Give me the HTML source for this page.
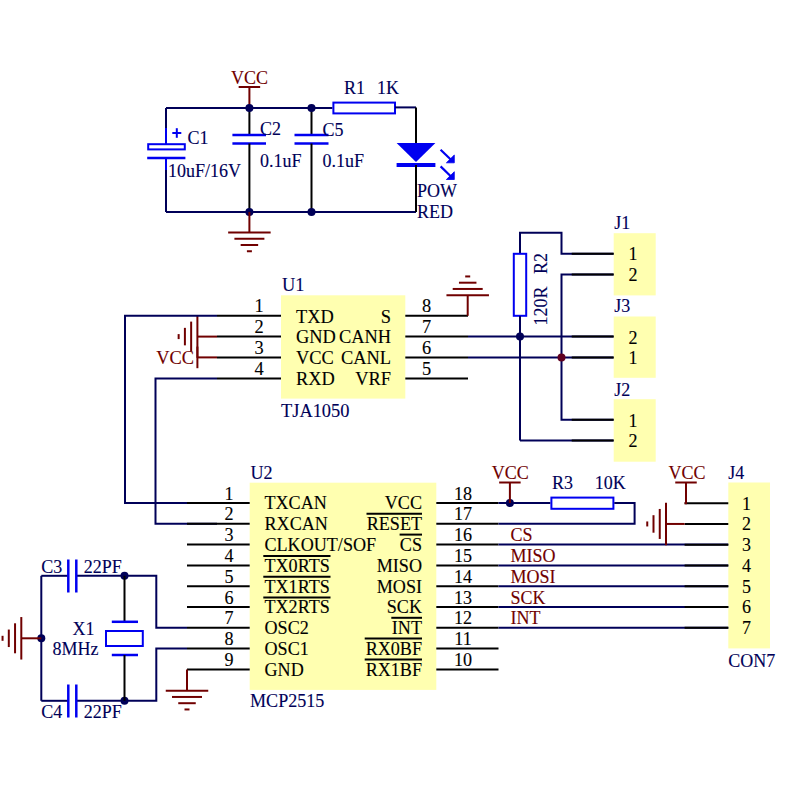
<!DOCTYPE html>
<html><head><meta charset="utf-8"><style>
html,body{margin:0;padding:0;background:#fff;width:800px;height:800px;overflow:hidden}
svg{display:block}
text{font-family:"Liberation Serif",serif;stroke-width:0.12px;paint-order:stroke}
</style></head><body>
<svg width="800" height="800" viewBox="0 0 800 800">
<rect x="0" y="0" width="800" height="800" fill="#ffffff"/>
<text x="249.5" y="84" font-size="18" fill="#700000" stroke="#700000" text-anchor="middle">VCC</text>
<line x1="238.65" y1="87" x2="260.15" y2="87" stroke="#700000" stroke-width="2.0"/>
<line x1="249.4" y1="87" x2="249.4" y2="108" stroke="#700000" stroke-width="2.0"/>
<line x1="166" y1="108" x2="332.4" y2="108" stroke="#000058" stroke-width="2.0"/>
<line x1="166" y1="212" x2="416" y2="212" stroke="#000058" stroke-width="2.0"/>
<line x1="166" y1="108" x2="166" y2="144" stroke="#000058" stroke-width="2.0"/>
<rect x="148.2" y="144.2" width="36.6" height="5.2" fill="none" stroke="#0000f0" stroke-width="2.0"/>
<line x1="147.2" y1="158" x2="185.4" y2="158" stroke="#0000f0" stroke-width="2.5"/>
<line x1="166" y1="158" x2="166" y2="212" stroke="#000058" stroke-width="2.0"/>
<line x1="166" y1="128" x2="166" y2="144" stroke="#0000f0" stroke-width="2.0"/>
<line x1="166" y1="158" x2="166" y2="170" stroke="#0000f0" stroke-width="2.0"/>
<line x1="172.3" y1="133" x2="181.3" y2="133" stroke="#0000f0" stroke-width="2"/>
<line x1="176.8" y1="128.2" x2="176.8" y2="137.8" stroke="#0000f0" stroke-width="2"/>
<text x="187.5" y="144.3" font-size="18" fill="#000058" stroke="#000058" text-anchor="start">C1</text>
<text x="168" y="177.3" font-size="18" fill="#000058" stroke="#000058" text-anchor="start">10uF/16V</text>
<line x1="249.4" y1="108" x2="249.4" y2="135" stroke="#000000" stroke-width="2.0"/>
<line x1="232.4" y1="135" x2="266" y2="135" stroke="#0000f0" stroke-width="2.5"/>
<line x1="232.4" y1="143.5" x2="266" y2="143.5" stroke="#0000f0" stroke-width="2.5"/>
<line x1="249.4" y1="143.5" x2="249.4" y2="212" stroke="#000000" stroke-width="2.0"/>
<circle cx="249.4" cy="108" r="4" fill="#000058"/>
<circle cx="249.4" cy="212" r="4" fill="#000058"/>
<text x="260" y="135" font-size="18" fill="#000058" stroke="#000058" text-anchor="start">C2</text>
<text x="260" y="167" font-size="18" fill="#000058" stroke="#000058" text-anchor="start">0.1uF</text>
<line x1="311.5" y1="108" x2="311.5" y2="135" stroke="#000000" stroke-width="2.0"/>
<line x1="294.5" y1="135" x2="328.5" y2="135" stroke="#0000f0" stroke-width="2.5"/>
<line x1="294.5" y1="143.5" x2="328.5" y2="143.5" stroke="#0000f0" stroke-width="2.5"/>
<line x1="311.5" y1="143.5" x2="311.5" y2="212" stroke="#000000" stroke-width="2.0"/>
<circle cx="311.5" cy="108" r="4" fill="#000058"/>
<circle cx="311.5" cy="212" r="4" fill="#000058"/>
<text x="322.5" y="135.6" font-size="18" fill="#000058" stroke="#000058" text-anchor="start">C5</text>
<text x="322.5" y="167" font-size="18" fill="#000058" stroke="#000058" text-anchor="start">0.1uF</text>
<line x1="249.4" y1="212" x2="249.4" y2="232.5" stroke="#700000" stroke-width="2.0"/>
<line x1="228.15" y1="232.5" x2="270.65" y2="232.5" stroke="#700000" stroke-width="2.0"/>
<line x1="234.4" y1="238.75" x2="264.4" y2="238.75" stroke="#700000" stroke-width="2.0"/>
<line x1="240.65" y1="245.0" x2="258.15" y2="245.0" stroke="#700000" stroke-width="2.0"/>
<line x1="246.9" y1="251.25" x2="251.9" y2="251.25" stroke="#700000" stroke-width="2.0"/>
<rect x="333.4" y="102.6" width="61.6" height="10.8" fill="none" stroke="#0000f0" stroke-width="2.0"/>
<line x1="395" y1="107.4" x2="416" y2="107.4" stroke="#000058" stroke-width="2.0"/>
<line x1="416" y1="107.4" x2="416" y2="143" stroke="#000000" stroke-width="2.0"/>
<polygon points="396.6,143 435.4,143 416,162" fill="#0000f0"/>
<line x1="396.6" y1="165" x2="435.4" y2="165" stroke="#0000f0" stroke-width="4"/>
<line x1="416" y1="165" x2="416" y2="212" stroke="#000000" stroke-width="2.0"/>
<line x1="440.6" y1="149.7" x2="451" y2="159.8" stroke="#0000f0" stroke-width="2.2"/>
<polygon points="454.3,155 454.3,162.8 446.4,162.8" fill="#0000f0" stroke="#0000f0" stroke-width="0.8"/>
<line x1="440.6" y1="166.39999999999998" x2="451" y2="176.5" stroke="#0000f0" stroke-width="2.2"/>
<polygon points="454.3,171.7 454.3,179.5 446.4,179.5" fill="#0000f0" stroke="#0000f0" stroke-width="0.8"/>
<text x="344" y="94" font-size="18" fill="#000058" stroke="#000058" text-anchor="start">R1</text>
<text x="377" y="94" font-size="18" fill="#000058" stroke="#000058" text-anchor="start">1K</text>
<text x="417" y="197" font-size="18" fill="#000058" stroke="#000058" text-anchor="start">POW</text>
<text x="417" y="218" font-size="18" fill="#000058" stroke="#000058" text-anchor="start">RED</text>
<rect x="281" y="295.3" width="124.3" height="103.3" fill="#ffffb0"/>
<line x1="217" y1="315.8" x2="281" y2="315.8" stroke="#000000" stroke-width="2.0"/>
<line x1="405.3" y1="315.8" x2="468" y2="315.8" stroke="#000000" stroke-width="2.0"/>
<text x="259" y="312.3" font-size="18.4" fill="#000000" stroke="#000000" text-anchor="middle">1</text>
<text x="426.5" y="312.3" font-size="18.4" fill="#000000" stroke="#000000" text-anchor="middle">8</text>
<text x="296" y="322.5" font-size="18.4" fill="#000000" stroke="#000000" text-anchor="start">TXD</text>
<text x="391" y="322.5" font-size="18.4" fill="#000000" stroke="#000000" text-anchor="end">S</text>
<line x1="217" y1="336.6" x2="281" y2="336.6" stroke="#000000" stroke-width="2.0"/>
<line x1="405.3" y1="336.6" x2="468" y2="336.6" stroke="#000000" stroke-width="2.0"/>
<text x="259" y="333.1" font-size="18.4" fill="#000000" stroke="#000000" text-anchor="middle">2</text>
<text x="426.5" y="333.1" font-size="18.4" fill="#000000" stroke="#000000" text-anchor="middle">7</text>
<text x="296" y="343.3" font-size="18.4" fill="#000000" stroke="#000000" text-anchor="start">GND</text>
<text x="391" y="343.3" font-size="18.4" fill="#000000" stroke="#000000" text-anchor="end">CANH</text>
<line x1="217" y1="357.4" x2="281" y2="357.4" stroke="#000000" stroke-width="2.0"/>
<line x1="405.3" y1="357.4" x2="468" y2="357.4" stroke="#000000" stroke-width="2.0"/>
<text x="259" y="353.9" font-size="18.4" fill="#000000" stroke="#000000" text-anchor="middle">3</text>
<text x="426.5" y="353.9" font-size="18.4" fill="#000000" stroke="#000000" text-anchor="middle">6</text>
<text x="296" y="364.09999999999997" font-size="18.4" fill="#000000" stroke="#000000" text-anchor="start">VCC</text>
<text x="391" y="364.09999999999997" font-size="18.4" fill="#000000" stroke="#000000" text-anchor="end">CANL</text>
<line x1="217" y1="378.4" x2="281" y2="378.4" stroke="#000000" stroke-width="2.0"/>
<line x1="405.3" y1="378.4" x2="468" y2="378.4" stroke="#000000" stroke-width="2.0"/>
<text x="259" y="374.9" font-size="18.4" fill="#000000" stroke="#000000" text-anchor="middle">4</text>
<text x="426.5" y="374.9" font-size="18.4" fill="#000000" stroke="#000000" text-anchor="middle">5</text>
<text x="296" y="385.09999999999997" font-size="18.4" fill="#000000" stroke="#000000" text-anchor="start">RXD</text>
<text x="391" y="385.09999999999997" font-size="18.4" fill="#000000" stroke="#000000" text-anchor="end">VRF</text>
<text x="282" y="291" font-size="18.4" fill="#000058" stroke="#000058" text-anchor="start">U1</text>
<text x="281" y="417" font-size="18.4" fill="#000058" stroke="#000058" text-anchor="start">TJA1050</text>
<line x1="467.7" y1="315.8" x2="467.7" y2="295.2" stroke="#700000" stroke-width="2.0"/>
<line x1="446.45" y1="295.2" x2="488.95" y2="295.2" stroke="#700000" stroke-width="2.0"/>
<line x1="452.7" y1="288.95" x2="482.7" y2="288.95" stroke="#700000" stroke-width="2.0"/>
<line x1="458.95" y1="282.7" x2="476.45" y2="282.7" stroke="#700000" stroke-width="2.0"/>
<line x1="465.2" y1="276.45" x2="470.2" y2="276.45" stroke="#700000" stroke-width="2.0"/>
<line x1="197.4" y1="336.6" x2="217" y2="336.6" stroke="#700000" stroke-width="2.0"/>
<line x1="197.4" y1="357.4" x2="217" y2="357.4" stroke="#700000" stroke-width="2.0"/>
<line x1="197.4" y1="315.35" x2="197.4" y2="357.85" stroke="#700000" stroke-width="2.0"/>
<line x1="191.15" y1="321.6" x2="191.15" y2="351.6" stroke="#700000" stroke-width="2.0"/>
<line x1="184.9" y1="327.85" x2="184.9" y2="345.35" stroke="#700000" stroke-width="2.0"/>
<line x1="178.65" y1="334.1" x2="178.65" y2="339.1" stroke="#700000" stroke-width="2.0"/>
<line x1="197.4" y1="346.6" x2="197.4" y2="368.2" stroke="#700000" stroke-width="2.0"/>
<text x="194" y="364" font-size="18.4" fill="#700000" stroke="#700000" text-anchor="end">VCC</text>
<polyline points="217,315.8 125,315.8 125,503 217,503" fill="none" stroke="#000058" stroke-width="2.0" stroke-linejoin="miter"/>
<polyline points="217,378.4 155.5,378.4 155.5,523.8 217,523.8" fill="none" stroke="#000058" stroke-width="2.0" stroke-linejoin="miter"/>
<line x1="468" y1="336.6" x2="613.7" y2="336.6" stroke="#000058" stroke-width="2.0"/>
<line x1="468" y1="357.4" x2="613.7" y2="357.4" stroke="#000058" stroke-width="2.0"/>
<polyline points="613.7,253.7 561.5,253.7 561.5,232.8 520,232.8 520,253.8" fill="none" stroke="#000058" stroke-width="2.0" stroke-linejoin="miter"/>
<rect x="513.8" y="253.8" width="12.4" height="62" fill="none" stroke="#0000f0" stroke-width="2.0"/>
<line x1="520" y1="316" x2="520" y2="440.6" stroke="#000058" stroke-width="2.0"/>
<polyline points="613.7,274.6 561.5,274.6 561.5,419.8 613.7,419.8" fill="none" stroke="#000058" stroke-width="2.0" stroke-linejoin="miter"/>
<line x1="520" y1="440.6" x2="613.7" y2="440.6" stroke="#000058" stroke-width="2.0"/>
<circle cx="520" cy="336.6" r="4" fill="#000058"/>
<circle cx="561.5" cy="357.4" r="4" fill="#600020"/>
<text transform="translate(547,325.6) rotate(-90)" font-size="18" fill="#000058" stroke="#000058">120R</text>
<text transform="translate(547,274) rotate(-90)" font-size="18" fill="#000058" stroke="#000058">R2</text>
<rect x="613.7" y="233.2" width="42" height="62.19999999999999" fill="#ffffb0"/>
<text x="614.2" y="229.1" font-size="18" fill="#000058" stroke="#000058" text-anchor="start">J1</text>
<text x="633" y="260" font-size="18" fill="#000000" stroke="#000000" text-anchor="middle">1</text>
<text x="633" y="281" font-size="18" fill="#000000" stroke="#000000" text-anchor="middle">2</text>
<rect x="613.7" y="316.5" width="42" height="61.30000000000001" fill="#ffffb0"/>
<text x="614.2" y="312.4" font-size="18" fill="#000058" stroke="#000058" text-anchor="start">J3</text>
<text x="633" y="343.5" font-size="18" fill="#000000" stroke="#000000" text-anchor="middle">2</text>
<text x="633" y="364" font-size="18" fill="#000000" stroke="#000000" text-anchor="middle">1</text>
<rect x="613.7" y="399.2" width="42" height="62.5" fill="#ffffb0"/>
<text x="614.2" y="395.7" font-size="18" fill="#000058" stroke="#000058" text-anchor="start">J2</text>
<text x="633" y="426.5" font-size="18" fill="#000000" stroke="#000000" text-anchor="middle">1</text>
<text x="633" y="447.3" font-size="18" fill="#000000" stroke="#000000" text-anchor="middle">2</text>
<line x1="571.7" y1="253.7" x2="613.7" y2="253.7" stroke="#000000" stroke-width="2.0"/>
<line x1="571.7" y1="274.6" x2="613.7" y2="274.6" stroke="#000000" stroke-width="2.0"/>
<line x1="571.7" y1="336.6" x2="613.7" y2="336.6" stroke="#000000" stroke-width="2.0"/>
<line x1="571.7" y1="357.4" x2="613.7" y2="357.4" stroke="#000000" stroke-width="2.0"/>
<line x1="571.7" y1="419.8" x2="613.7" y2="419.8" stroke="#000000" stroke-width="2.0"/>
<line x1="571.7" y1="440.6" x2="613.7" y2="440.6" stroke="#000000" stroke-width="2.0"/>
<rect x="249.7" y="482.7" width="186.6" height="207.2" fill="#ffffb0"/>
<line x1="187" y1="503.0" x2="249.7" y2="503.0" stroke="#000000" stroke-width="2.0"/>
<line x1="436.3" y1="503.0" x2="498.5" y2="503.0" stroke="#000000" stroke-width="2.0"/>
<text x="229" y="499.5" font-size="18.1" fill="#000000" stroke="#000000" text-anchor="middle">1</text>
<text x="463" y="499.5" font-size="18.1" fill="#000000" stroke="#000000" text-anchor="middle">18</text>
<text x="264.5" y="509.3" font-size="18.1" fill="#000000" stroke="#000000" text-anchor="start">TXCAN</text>
<text x="422" y="509.3" font-size="18.1" fill="#000000" stroke="#000000" text-anchor="end">VCC</text>
<line x1="187" y1="523.8" x2="249.7" y2="523.8" stroke="#000000" stroke-width="2.0"/>
<line x1="436.3" y1="523.8" x2="498.5" y2="523.8" stroke="#000000" stroke-width="2.0"/>
<text x="229" y="520.3" font-size="18.1" fill="#000000" stroke="#000000" text-anchor="middle">2</text>
<text x="463" y="520.3" font-size="18.1" fill="#000000" stroke="#000000" text-anchor="middle">17</text>
<text x="264.5" y="530.0999999999999" font-size="18.1" fill="#000000" stroke="#000000" text-anchor="start">RXCAN</text>
<text x="422" y="530.0999999999999" font-size="18.1" fill="#000000" stroke="#000000" text-anchor="end">RESET</text>
<line x1="187" y1="544.6" x2="249.7" y2="544.6" stroke="#000000" stroke-width="2.0"/>
<line x1="436.3" y1="544.6" x2="498.5" y2="544.6" stroke="#000000" stroke-width="2.0"/>
<text x="229" y="541.1" font-size="18.1" fill="#000000" stroke="#000000" text-anchor="middle">3</text>
<text x="463" y="541.1" font-size="18.1" fill="#000000" stroke="#000000" text-anchor="middle">16</text>
<text x="264.5" y="550.9" font-size="18.1" fill="#000000" stroke="#000000" text-anchor="start">CLKOUT/SOF</text>
<text x="422" y="550.9" font-size="18.1" fill="#000000" stroke="#000000" text-anchor="end">CS</text>
<line x1="187" y1="565.4" x2="249.7" y2="565.4" stroke="#000000" stroke-width="2.0"/>
<line x1="436.3" y1="565.4" x2="498.5" y2="565.4" stroke="#000000" stroke-width="2.0"/>
<text x="229" y="561.9" font-size="18.1" fill="#000000" stroke="#000000" text-anchor="middle">4</text>
<text x="463" y="561.9" font-size="18.1" fill="#000000" stroke="#000000" text-anchor="middle">15</text>
<text x="264.5" y="571.6999999999999" font-size="18.1" fill="#000000" stroke="#000000" text-anchor="start">TX0RTS</text>
<text x="422" y="571.6999999999999" font-size="18.1" fill="#000000" stroke="#000000" text-anchor="end">MISO</text>
<line x1="187" y1="586.2" x2="249.7" y2="586.2" stroke="#000000" stroke-width="2.0"/>
<line x1="436.3" y1="586.2" x2="498.5" y2="586.2" stroke="#000000" stroke-width="2.0"/>
<text x="229" y="582.7" font-size="18.1" fill="#000000" stroke="#000000" text-anchor="middle">5</text>
<text x="463" y="582.7" font-size="18.1" fill="#000000" stroke="#000000" text-anchor="middle">14</text>
<text x="264.5" y="592.5" font-size="18.1" fill="#000000" stroke="#000000" text-anchor="start">TX1RTS</text>
<text x="422" y="592.5" font-size="18.1" fill="#000000" stroke="#000000" text-anchor="end">MOSI</text>
<line x1="187" y1="607.0" x2="249.7" y2="607.0" stroke="#000000" stroke-width="2.0"/>
<line x1="436.3" y1="607.0" x2="498.5" y2="607.0" stroke="#000000" stroke-width="2.0"/>
<text x="229" y="603.5" font-size="18.1" fill="#000000" stroke="#000000" text-anchor="middle">6</text>
<text x="463" y="603.5" font-size="18.1" fill="#000000" stroke="#000000" text-anchor="middle">13</text>
<text x="264.5" y="613.3" font-size="18.1" fill="#000000" stroke="#000000" text-anchor="start">TX2RTS</text>
<text x="422" y="613.3" font-size="18.1" fill="#000000" stroke="#000000" text-anchor="end">SCK</text>
<line x1="187" y1="627.8" x2="249.7" y2="627.8" stroke="#000000" stroke-width="2.0"/>
<line x1="436.3" y1="627.8" x2="498.5" y2="627.8" stroke="#000000" stroke-width="2.0"/>
<text x="229" y="624.3" font-size="18.1" fill="#000000" stroke="#000000" text-anchor="middle">7</text>
<text x="463" y="624.3" font-size="18.1" fill="#000000" stroke="#000000" text-anchor="middle">12</text>
<text x="264.5" y="634.0999999999999" font-size="18.1" fill="#000000" stroke="#000000" text-anchor="start">OSC2</text>
<text x="422" y="634.0999999999999" font-size="18.1" fill="#000000" stroke="#000000" text-anchor="end">INT</text>
<line x1="187" y1="648.6" x2="249.7" y2="648.6" stroke="#000000" stroke-width="2.0"/>
<line x1="436.3" y1="648.6" x2="498.5" y2="648.6" stroke="#000000" stroke-width="2.0"/>
<text x="229" y="645.1" font-size="18.1" fill="#000000" stroke="#000000" text-anchor="middle">8</text>
<text x="463" y="645.1" font-size="18.1" fill="#000000" stroke="#000000" text-anchor="middle">11</text>
<text x="264.5" y="654.9" font-size="18.1" fill="#000000" stroke="#000000" text-anchor="start">OSC1</text>
<text x="422" y="654.9" font-size="18.1" fill="#000000" stroke="#000000" text-anchor="end">RX0BF</text>
<line x1="187" y1="669.4" x2="249.7" y2="669.4" stroke="#000000" stroke-width="2.0"/>
<line x1="436.3" y1="669.4" x2="498.5" y2="669.4" stroke="#000000" stroke-width="2.0"/>
<text x="229" y="665.9" font-size="18.1" fill="#000000" stroke="#000000" text-anchor="middle">9</text>
<text x="463" y="665.9" font-size="18.1" fill="#000000" stroke="#000000" text-anchor="middle">10</text>
<text x="264.5" y="675.6999999999999" font-size="18.1" fill="#000000" stroke="#000000" text-anchor="start">GND</text>
<text x="422" y="675.6999999999999" font-size="18.1" fill="#000000" stroke="#000000" text-anchor="end">RX1BF</text>
<line x1="263.3" y1="555.9" x2="330.5" y2="555.9" stroke="#000000" stroke-width="2.0"/>
<line x1="263.3" y1="576.7" x2="330.5" y2="576.7" stroke="#000000" stroke-width="2.0"/>
<line x1="263.3" y1="597.5" x2="330.5" y2="597.5" stroke="#000000" stroke-width="2.0"/>
<line x1="366.5" y1="513.8" x2="422" y2="513.8" stroke="#000000" stroke-width="2.0"/>
<line x1="399.6" y1="534.6" x2="422" y2="534.6" stroke="#000000" stroke-width="2.0"/>
<line x1="391.3" y1="617.8" x2="422" y2="617.8" stroke="#000000" stroke-width="2.0"/>
<line x1="364.7" y1="638.6" x2="422" y2="638.6" stroke="#000000" stroke-width="2.0"/>
<line x1="364.7" y1="659.4" x2="422" y2="659.4" stroke="#000000" stroke-width="2.0"/>
<text x="250.5" y="479" font-size="18.1" fill="#000058" stroke="#000058" text-anchor="start">U2</text>
<text x="250" y="707" font-size="18.1" fill="#000058" stroke="#000058" text-anchor="start">MCP2515</text>
<polyline points="187,669.4 187,690.7" fill="none" stroke="#700000" stroke-width="2.0" stroke-linejoin="miter"/>
<line x1="165.75" y1="690.7" x2="208.25" y2="690.7" stroke="#700000" stroke-width="2.0"/>
<line x1="172" y1="696.95" x2="202" y2="696.95" stroke="#700000" stroke-width="2.0"/>
<line x1="178.25" y1="703.2" x2="195.75" y2="703.2" stroke="#700000" stroke-width="2.0"/>
<line x1="184.5" y1="709.45" x2="189.5" y2="709.45" stroke="#700000" stroke-width="2.0"/>
<polyline points="187,627.8 156.3,627.8 156.3,575.8 124.5,575.8" fill="none" stroke="#000058" stroke-width="2.0" stroke-linejoin="miter"/>
<polyline points="187,648.6 156.3,648.6 156.3,700.8 124.5,700.8" fill="none" stroke="#000058" stroke-width="2.0" stroke-linejoin="miter"/>
<line x1="124.5" y1="575.8" x2="76.3" y2="575.8" stroke="#000058" stroke-width="2.0"/>
<line x1="68.3" y1="575.8" x2="41.3" y2="575.8" stroke="#000058" stroke-width="2.0"/>
<line x1="41.3" y1="575.8" x2="41.3" y2="700.8" stroke="#000058" stroke-width="2.0"/>
<line x1="124.5" y1="700.8" x2="76.3" y2="700.8" stroke="#000058" stroke-width="2.0"/>
<line x1="68.3" y1="700.8" x2="41.3" y2="700.8" stroke="#000058" stroke-width="2.0"/>
<line x1="68.3" y1="559.5" x2="68.3" y2="592.5" stroke="#0000f0" stroke-width="2.5"/>
<line x1="76.3" y1="559.5" x2="76.3" y2="592.5" stroke="#0000f0" stroke-width="2.5"/>
<line x1="68.3" y1="684.5" x2="68.3" y2="717.5" stroke="#0000f0" stroke-width="2.5"/>
<line x1="76.3" y1="684.5" x2="76.3" y2="717.5" stroke="#0000f0" stroke-width="2.5"/>
<circle cx="124.5" cy="575.8" r="4" fill="#000058"/>
<circle cx="124.5" cy="700.8" r="4" fill="#000058"/>
<circle cx="41.3" cy="638.3" r="4" fill="#000058"/>
<line x1="124.5" y1="575.8" x2="124.5" y2="621.8" stroke="#000000" stroke-width="2.0"/>
<line x1="111.8" y1="621.8" x2="138" y2="621.8" stroke="#0000f0" stroke-width="2.5"/>
<rect x="106" y="631" width="36.8" height="15" fill="none" stroke="#0000f0" stroke-width="2.0"/>
<line x1="111.8" y1="655" x2="138" y2="655" stroke="#0000f0" stroke-width="2.5"/>
<line x1="124.5" y1="655" x2="124.5" y2="700.8" stroke="#000000" stroke-width="2.0"/>
<line x1="41.3" y1="638.3" x2="21.3" y2="638.3" stroke="#700000" stroke-width="2.0"/>
<line x1="21.3" y1="617.05" x2="21.3" y2="659.55" stroke="#700000" stroke-width="2.0"/>
<line x1="15.05" y1="623.3" x2="15.05" y2="653.3" stroke="#700000" stroke-width="2.0"/>
<line x1="8.8" y1="629.55" x2="8.8" y2="647.05" stroke="#700000" stroke-width="2.0"/>
<line x1="2.5500000000000007" y1="635.8" x2="2.5500000000000007" y2="640.8" stroke="#700000" stroke-width="2.0"/>
<text x="41.3" y="572.5" font-size="18" fill="#000058" stroke="#000058" text-anchor="start">C3</text>
<text x="83.7" y="572.5" font-size="18" fill="#000058" stroke="#000058" text-anchor="start">22PF</text>
<text x="41.3" y="717.5" font-size="18" fill="#000058" stroke="#000058" text-anchor="start">C4</text>
<text x="83.7" y="717.5" font-size="18" fill="#000058" stroke="#000058" text-anchor="start">22PF</text>
<text x="72.5" y="635" font-size="18" fill="#000058" stroke="#000058" text-anchor="start">X1</text>
<text x="52.5" y="655" font-size="18" fill="#000058" stroke="#000058" text-anchor="start">8MHz</text>
<line x1="498.5" y1="503.0" x2="550.4" y2="503.0" stroke="#000058" stroke-width="2.0"/>
<circle cx="509.9" cy="503.0" r="4" fill="#000058"/>
<line x1="509.9" y1="482.5" x2="509.9" y2="503.0" stroke="#700000" stroke-width="2.0"/>
<line x1="499.15" y1="482.5" x2="520.65" y2="482.5" stroke="#700000" stroke-width="2.0"/>
<text x="510.3" y="478.6" font-size="18" fill="#700000" stroke="#700000" text-anchor="middle">VCC</text>
<rect x="551.4" y="497.6" width="62" height="11.2" fill="none" stroke="#0000f0" stroke-width="2.0"/>
<polyline points="614.3,503.0 634.6,503.0 634.6,523.8 498.5,523.8" fill="none" stroke="#000058" stroke-width="2.0" stroke-linejoin="miter"/>
<text x="552" y="488.7" font-size="18" fill="#000058" stroke="#000058" text-anchor="start">R3</text>
<text x="594.7" y="488.7" font-size="18" fill="#000058" stroke="#000058" text-anchor="start">10K</text>
<rect x="728.3" y="482.5" width="41.7" height="165.9" fill="#ffffb0"/>
<line x1="498.5" y1="544.6" x2="728.3" y2="544.6" stroke="#000058" stroke-width="2.0"/>
<line x1="498.5" y1="565.4" x2="728.3" y2="565.4" stroke="#000058" stroke-width="2.0"/>
<line x1="498.5" y1="586.2" x2="728.3" y2="586.2" stroke="#000058" stroke-width="2.0"/>
<line x1="498.5" y1="607.0" x2="728.3" y2="607.0" stroke="#000058" stroke-width="2.0"/>
<line x1="498.5" y1="627.8" x2="728.3" y2="627.8" stroke="#000058" stroke-width="2.0"/>
<line x1="684.6" y1="503.2" x2="728.3" y2="503.2" stroke="#000000" stroke-width="2.0"/>
<text x="746.5" y="509.7" font-size="18" fill="#000000" stroke="#000000" text-anchor="middle">1</text>
<line x1="684.6" y1="523.95" x2="728.3" y2="523.95" stroke="#000000" stroke-width="2.0"/>
<text x="746.5" y="530.45" font-size="18" fill="#000000" stroke="#000000" text-anchor="middle">2</text>
<line x1="684.6" y1="544.7" x2="728.3" y2="544.7" stroke="#000000" stroke-width="2.0"/>
<text x="746.5" y="551.2" font-size="18" fill="#000000" stroke="#000000" text-anchor="middle">3</text>
<line x1="684.6" y1="565.45" x2="728.3" y2="565.45" stroke="#000000" stroke-width="2.0"/>
<text x="746.5" y="571.95" font-size="18" fill="#000000" stroke="#000000" text-anchor="middle">4</text>
<line x1="684.6" y1="586.2" x2="728.3" y2="586.2" stroke="#000000" stroke-width="2.0"/>
<text x="746.5" y="592.7" font-size="18" fill="#000000" stroke="#000000" text-anchor="middle">5</text>
<line x1="684.6" y1="606.95" x2="728.3" y2="606.95" stroke="#000000" stroke-width="2.0"/>
<text x="746.5" y="613.45" font-size="18" fill="#000000" stroke="#000000" text-anchor="middle">6</text>
<line x1="684.6" y1="627.7" x2="728.3" y2="627.7" stroke="#000000" stroke-width="2.0"/>
<text x="746.5" y="634.2" font-size="18" fill="#000000" stroke="#000000" text-anchor="middle">7</text>
<text x="510.4" y="541.2" font-size="18" fill="#700000" stroke="#700000" text-anchor="start">CS</text>
<text x="510.4" y="562.0" font-size="18" fill="#700000" stroke="#700000" text-anchor="start">MISO</text>
<text x="510.4" y="582.8000000000001" font-size="18" fill="#700000" stroke="#700000" text-anchor="start">MOSI</text>
<text x="510.4" y="603.6" font-size="18" fill="#700000" stroke="#700000" text-anchor="start">SCK</text>
<text x="510.4" y="624.4" font-size="18" fill="#700000" stroke="#700000" text-anchor="start">INT</text>
<text x="728.3" y="478.7" font-size="18" fill="#000058" stroke="#000058" text-anchor="start">J4</text>
<text x="728.3" y="667" font-size="18" fill="#000058" stroke="#000058" text-anchor="start">CON7</text>
<polyline points="684.6,503.2 686,503.2 686,482.5" fill="none" stroke="#700000" stroke-width="2.0" stroke-linejoin="miter"/>
<line x1="675.25" y1="482.5" x2="696.75" y2="482.5" stroke="#700000" stroke-width="2.0"/>
<text x="687" y="478.7" font-size="18" fill="#700000" stroke="#700000" text-anchor="middle">VCC</text>
<line x1="666" y1="523.95" x2="684.6" y2="523.95" stroke="#700000" stroke-width="2.0"/>
<line x1="666.0" y1="502.70000000000005" x2="666.0" y2="545.2" stroke="#700000" stroke-width="2.0"/>
<line x1="659.75" y1="508.95000000000005" x2="659.75" y2="538.95" stroke="#700000" stroke-width="2.0"/>
<line x1="653.5" y1="515.2" x2="653.5" y2="532.7" stroke="#700000" stroke-width="2.0"/>
<line x1="647.25" y1="521.45" x2="647.25" y2="526.45" stroke="#700000" stroke-width="2.0"/>
</svg>
</body></html>
